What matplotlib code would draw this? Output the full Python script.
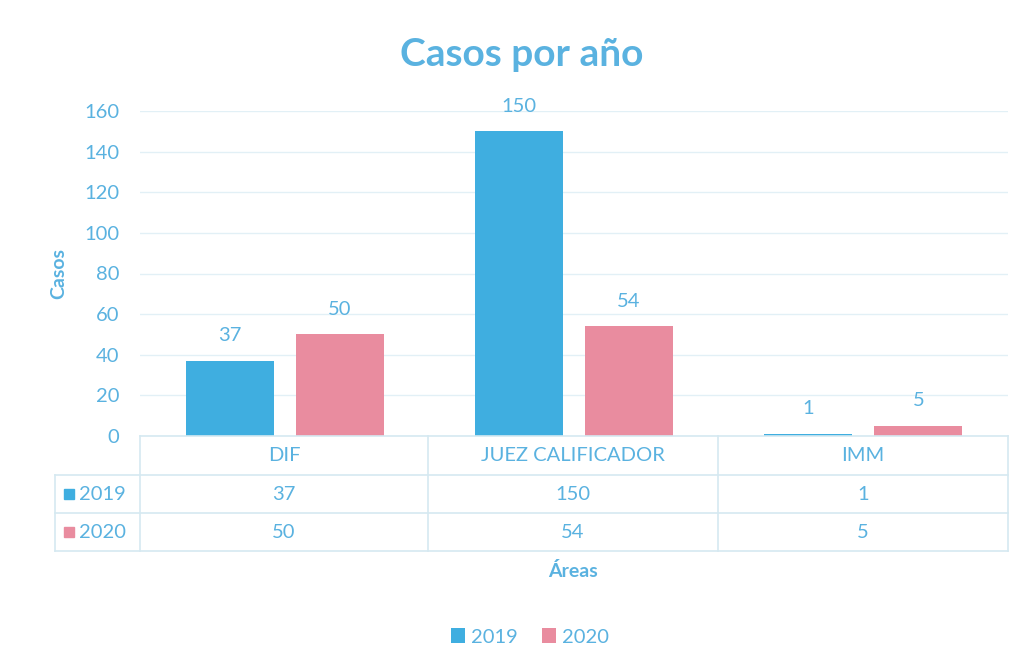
import numpy as np
import matplotlib.pyplot as plt
from matplotlib.lines import Line2D
from matplotlib.patches import Rectangle

# --------------------------------------------------
# Data
# --------------------------------------------------

areas = ["DIF", "JUEZ CALIFICADOR", "IMM"]
years = ["2019", "2020"]
casos_2019 = [37, 150, 1]
casos_2020 = [50, 54, 5]

y_ticks = [0, 20, 40, 60, 80, 100, 120, 140, 160]

# --------------------------------------------------
# Style
# --------------------------------------------------

c_2019 = "#3FAEE0"
c_2020 = "#E98C9F"
c_text = "#5AB2E0"
c_grid = "#E2F0F6"
c_table = "#D5E9F1"

plt.rcParams["font.family"] = ["Lato", "DejaVu Sans"]

W, H = 1030, 672
fig = plt.figure(figsize=(W / 100, H / 100), dpi=100)

x0, x1 = 140, 1008
y_zero, y_top = 436, 111
ax = fig.add_axes([x0 / W, 1 - y_zero / H, (x1 - x0) / W, (y_zero - y_top) / H])

n = len(areas)
x = np.arange(n)
bw = 0.305
off = 0.19

b1 = ax.bar(x - off, casos_2019, bw, color=c_2019)
b2 = ax.bar(x + off, casos_2020, bw, color=c_2020)

for bars, vals in [(b1, casos_2019), (b2, casos_2020)]:
    for rect, v in zip(bars, vals):
        ax.annotate(str(v), (rect.get_x() + rect.get_width() / 2, v),
                    xytext=(0, 12), textcoords="offset points",
                    ha="center", va="bottom", color=c_text, fontsize=14.5)

ax.set_xlim(-0.5, n - 0.5)
ax.set_ylim(0, 160)
ax.set_yticks(y_ticks)
ax.set_xticks([])
ax.tick_params(axis="y", length=0, labelsize=14.5, labelcolor=c_text, pad=15)
ax.grid(axis="y", color=c_grid, linewidth=1)
ax.set_axisbelow(True)
for s in ax.spines.values():
    s.set_visible(False)

ax.set_ylabel("Casos", color=c_text, fontsize=14, fontweight="bold", labelpad=12)

fig.text(522 / W, 1 - 55 / H, "Casos por año", ha="center", va="center",
         color=c_text, fontsize=28, fontweight="bold")

# --------------------------------------------------
# Data table below the axes
# --------------------------------------------------

def fx(px):
    return px / W


def fy(py):
    return 1 - py / H


row_y = [436, 475, 513, 551]
col_x = [140, 428, 718, 1008]
left_x = 55

lw = 1.2
# horizontal lines
fig.add_artist(Line2D([fx(col_x[0]), fx(col_x[-1])], [fy(row_y[0])] * 2, color=c_table, lw=lw))
for yy in row_y[1:]:
    fig.add_artist(Line2D([fx(left_x), fx(col_x[-1])], [fy(yy)] * 2, color=c_table, lw=lw))
# vertical lines
for xx in col_x:
    fig.add_artist(Line2D([fx(xx)] * 2, [fy(row_y[0]), fy(row_y[-1])], color=c_table, lw=lw))
fig.add_artist(Line2D([fx(left_x)] * 2, [fy(row_y[1]), fy(row_y[-1])], color=c_table, lw=lw))

for i, a in enumerate(areas):
    cx = (col_x[i] + col_x[i + 1]) / 2
    fig.text(fx(cx), fy((row_y[0] + row_y[1]) / 2), a, ha="center", va="center",
             color=c_text, fontsize=14.5)
    for r, vals in enumerate([casos_2019, casos_2020]):
        fig.text(fx(cx), fy((row_y[r + 1] + row_y[r + 2]) / 2), str(vals[i]),
                 ha="center", va="center", color=c_text, fontsize=14.5)

for r, (yr, col) in enumerate(zip(years, [c_2019, c_2020])):
    cy = (row_y[r + 1] + row_y[r + 2]) / 2
    fig.add_artist(Rectangle((fx(64), fy(cy + 5)), 10 / W, 10 / H, color=col,
                             transform=fig.transFigure))
    fig.text(fx(79), fy(cy), yr, ha="left", va="center", color=c_text, fontsize=14.5)

fig.text(fx(573), fy(571), "Áreas", ha="center", va="center", color=c_text,
         fontsize=14, fontweight="bold")

# --------------------------------------------------
# Legend
# --------------------------------------------------

fig.legend([b1, b2], years, loc="center", bbox_to_anchor=(fx(530), fy(637)),
           ncol=2, frameon=False, fontsize=14.5, labelcolor=c_text,
           handlelength=0.7, handleheight=0.7, handletextpad=0.3, columnspacing=1.2)

fig.savefig("out.png", dpi=100)
